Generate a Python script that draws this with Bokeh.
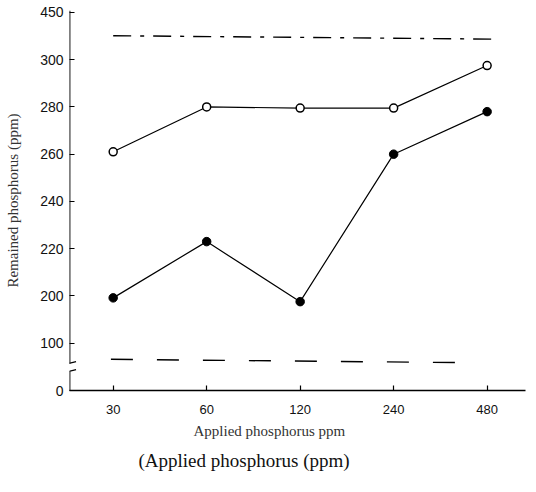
import numpy as np
from bokeh.plotting import figure
from bokeh.models import FixedTicker, Range1d, Title, Arrow
from bokeh.embed import file_html
from bokeh.resources import INLINE

# ---- data ----
applied_ppm = [30, 60, 120, 240, 480]
x_tick_labels = ["30", "60", "120", "240", "480"]
remained_open = [261, 280, 279.5, 279.5, 297.5]
remained_filled = [196, 223, 188, 260, 278]
upper_ref_ppm = [30, 525]
upper_ref_val = [376, 365]
lower_ref_ppm = [29.5, 392]
lower_ref_val = [66, 59]
y_tick_values = [0, 100, 200, 220, 240, 260, 280, 300, 450]
y_break_low, y_break_high = 40, 57   # broken-axis gap (in 0-100 segment units)

# broken y axis: each labelled tick is one equal step on the drawn axis
y_tick_pos = list(range(len(y_tick_values)))


def to_axis(v):
    return np.interp(v, y_tick_values, y_tick_pos)


x_lo, x_hi = 21.7, 638
y_lo, y_hi = 0, 8.04

p = figure(width=536, height=492, x_axis_type="log",
           x_range=Range1d(x_lo, x_hi), y_range=Range1d(y_lo, y_hi),
           output_backend="svg", toolbar_location=None,
           min_border_left=69, min_border_right=11,
           min_border_top=10, min_border_bottom=102)
p.background_fill_color = "white"
p.border_fill_color = "white"
p.outline_line_color = None
p.grid.visible = False

# reference lines
p.line(upper_ref_ppm, to_axis(upper_ref_val), line_color="black",
       line_width=1.4, line_dash="18 9 4 9")
p.line(lower_ref_ppm, to_axis(lower_ref_val), line_color="black",
       line_width=1.4, line_dash="22 24")

# series
p.line(applied_ppm, to_axis(remained_open), line_color="black", line_width=1.2)
p.scatter(applied_ppm, to_axis(remained_open), size=8, marker="circle",
          fill_color="white", line_color="black", line_width=1.5)
p.line(applied_ppm, to_axis(remained_filled), line_color="black", line_width=1.2)
p.scatter(applied_ppm, to_axis(remained_filled), size=8.5, marker="circle",
          fill_color="black", line_color="black")

# x axis
xa = p.xaxis[0]
xa.ticker = FixedTicker(ticks=applied_ppm, minor_ticks=[])
xa.major_label_overrides = {v: s for v, s in zip(applied_ppm, x_tick_labels)}
xa.axis_line_color = "black"
xa.axis_line_width = 1.4
xa.major_tick_in = 5
xa.major_tick_out = 0
xa.minor_tick_line_color = None
xa.major_tick_line_width = 1.2
xa.major_label_standoff = 14
xa.major_label_text_font = "Liberation Sans"
xa.major_label_text_font_size = "13px"
xa.major_label_text_color = "#111111"

# y axis (line drawn by hand because of the break)
ya = p.yaxis[0]
ya.ticker = FixedTicker(ticks=y_tick_pos, minor_ticks=[])
ya.major_label_overrides = {i: str(v) for i, v in zip(y_tick_pos, y_tick_values)}
ya.axis_line_color = None
ya.major_tick_in = 5
ya.major_tick_out = 0
ya.minor_tick_line_color = None
ya.major_tick_line_width = 1.2
ya.major_label_standoff = 6
ya.major_label_text_font = "Liberation Sans"
ya.major_label_text_font_size = "14px"
ya.major_label_text_color = "#111111"
ya.axis_label = "Remained phosphorus (ppm)"
ya.axis_label_text_font = "Liberation Serif"
ya.axis_label_text_font_style = "normal"
ya.axis_label_text_font_size = "15px"
ya.axis_label_text_color = "#333333"
ya.axis_label_standoff = 16

b_lo = float(to_axis(y_break_low))
b_hi = float(to_axis(y_break_high))
for ys, ye in [(y_lo, b_lo), (b_hi, y_hi)]:
    p.add_layout(Arrow(end=None, x_start=x_lo, x_end=x_lo, y_start=ys, y_end=ye,
                       line_color="black", line_width=1.8))
f = 2 ** 0.07
for yb in (b_lo, b_hi):
    p.add_layout(Arrow(end=None, x_start=x_lo / f, x_end=x_lo * f,
                       y_start=yb - 0.03, y_end=yb + 0.04,
                       line_color="black", line_width=1.2))

p.add_layout(Title(text="Applied phosphorus  ppm", align="left", offset=124,
                   text_font="Liberation Serif", text_font_size="15px",
                   text_font_style="normal", text_color="#333333",
                   standoff=9), "below")
p.add_layout(Title(text="(Applied phosphorus (ppm)", align="left", offset=69,
                   text_font="Liberation Serif", text_font_size="19px",
                   text_font_style="normal", text_color="#111111",
                   standoff=8), "below")

open("out.html", "w").write(file_html(p, INLINE))
